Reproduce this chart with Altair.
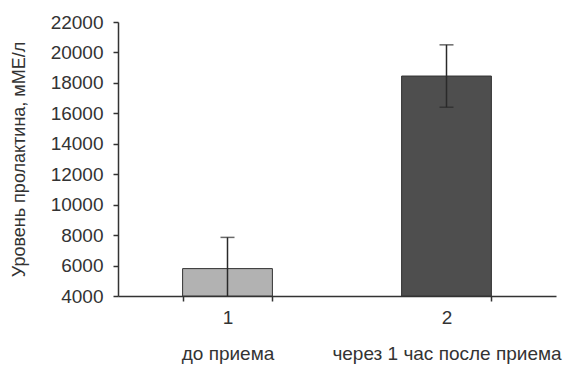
import altair as alt
import pandas as pd

categories = ["1", "2"]
descriptions = ["до приема", "через 1 час после приема"]
values = [5800, 18450]
errors = [2050, 2050]
y_ticks = [4000, 6000, 8000, 10000, 12000, 14000, 16000, 18000, 20000, 22000]
bar_colors = ["#b2b2b2", "#4e4e4e"]

df = pd.DataFrame({"cat": categories, "value": values, "err": errors})

label_expr = " : ".join(
    f"datum.value == '{c}' ? ['{c}', '{d}']" for c, d in zip(categories, descriptions)
) + " : datum.label"

FONT = "Liberation Sans"
TXT = "#333333"

xscale = alt.Scale(paddingInner=0.59, paddingOuter=0.295)
yscale = alt.Scale(domain=[4000, 22000], nice=False, zero=False)

xaxis = alt.Axis(
    title=None,
    labelAngle=0,
    labelExpr=label_expr,
    labelFont=FONT,
    labelFontSize=19,
    labelColor=TXT,
    labelLineHeight=36,
    labelPadding=7,
    labelLimit=400,
    labelOverlap=False,
    tickBand="extent",
    tickSize=5,
    tickColor="#333333",
    tickWidth=1.5,
    domainColor="#333333",
    domainWidth=1.5,
)

yaxis = alt.Axis(
    title="Уровень пролактина, мМЕ/л",
    values=y_ticks,
    format="d",
    labelOverlap=False,
    grid=False,
    labelFont=FONT,
    labelFontSize=19,
    labelColor=TXT,
    labelPadding=10,
    tickSize=5,
    tickColor="#333333",
    tickWidth=1.5,
    domainColor="#333333",
    domainWidth=1.5,
    titleFont=FONT,
    titleFontSize=18,
    titleFontWeight="normal",
    titleColor=TXT,
    titlePadding=22,
)

xe = alt.X("cat:N", sort=categories, scale=xscale, axis=xaxis)

base = alt.Chart(df)

bars = base.mark_bar(stroke="#333333", strokeWidth=1).encode(
    x=xe,
    y=alt.Y("value:Q", scale=yscale, axis=yaxis),
    y2=alt.datum(4000),
    color=alt.Color("cat:N", scale=alt.Scale(domain=categories, range=bar_colors), legend=None),
)

err_base = base.transform_calculate(
    lo="datum.value - datum.err", hi="datum.value + datum.err"
)

rule = err_base.mark_rule(color="#2a2a2a", strokeWidth=1.5, clip=True).encode(
    x=xe,
    y=alt.Y("lo:Q", scale=yscale, axis=yaxis),
    y2="hi:Q",
)

cap_hi = err_base.mark_tick(color="#2a2a2a", size=14, thickness=1.5, orient="horizontal", clip=True).encode(
    x=xe,
    y=alt.Y("hi:Q", scale=yscale, axis=yaxis),
)
cap_lo = err_base.mark_tick(color="#2a2a2a", size=14, thickness=1.5, orient="horizontal", clip=True).encode(
    x=xe,
    y=alt.Y("lo:Q", scale=yscale, axis=yaxis),
)

chart = (
    alt.layer(bars, rule, cap_hi, cap_lo)
    .properties(
        width=438,
        height=274,
        background="white",
        autosize=alt.AutoSizeParams(type="none"),
        padding={"left": 118, "top": 22, "right": 12, "bottom": 69},
    )
    .configure_view(strokeWidth=0)
)

chart.save("out.html", embed_options={"renderer": "svg", "actions": False})
